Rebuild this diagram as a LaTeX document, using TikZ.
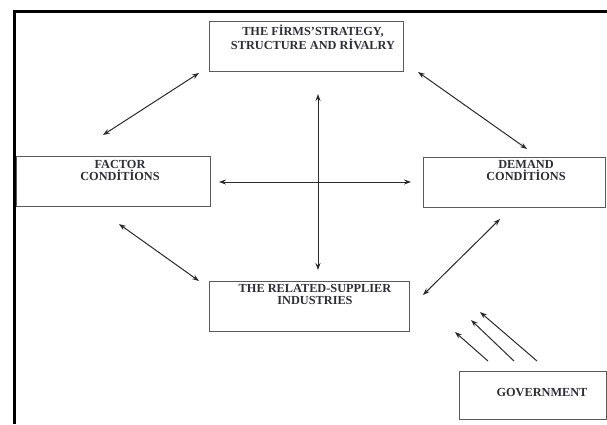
\documentclass[tikz,border=0pt]{standalone}
\usepackage{fontspec}
\setmainfont{Liberation Serif}
\usetikzlibrary{arrows.meta}
\definecolor{boxline}{HTML}{5A5A5A}
\definecolor{inkline}{HTML}{2A2A2A}
\definecolor{labelink}{HTML}{2E2E38}
\tikzset{
  box/.style={draw=boxline, line width=0.9pt, inner sep=0pt, fill=white},
  boxtext/.style={font=\bfseries\fontsize{12.3}{12}\selectfont, text=labelink, align=center, anchor=north, inner sep=0pt},
  link/.style={draw=inkline, line width=1pt, {Stealth[length=7pt,width=5pt]}-{Stealth[length=7pt,width=5pt]}},
  push/.style={draw=inkline, line width=1pt, -{Stealth[length=7pt,width=5pt]}},
  frame/.style={draw=black, line width=3pt}
}
\begin{document}
\begin{tikzpicture}[x=1pt,y=-1pt]
\useasboundingbox (0,0) rectangle (607,424);
% page frame along the top and left edges
\draw[frame] (14,424) -- (14,11.5) -- (607,11.5);

% the four determinants and government
\node[box, minimum width=194pt, minimum height=50pt] (firms) at (306,46.5) {};
\node[boxtext] (firmsT) at (313,25) {THE FİRMS'STRATEGY,\\STRUCTURE AND RİVALRY};

\node[box, minimum width=194pt, minimum height=50pt] (factor) at (113,181.5) {};
\node[boxtext] (factorT) at (120,160) {FACTOR\\CONDİTİONS};

\node[box, minimum width=182pt, minimum height=50pt] (demand) at (514,182) {};
\node[boxtext] (demandT) at (526,160) {DEMAND\\CONDİTİONS};

\node[box, minimum width=200pt, minimum height=50pt] (related) at (309,306) {};
\node[boxtext] (relatedT) at (315,284.5) {THE RELATED-SUPPLIER\\INDUSTRIES};

\node[box, minimum width=147pt, minimum height=48pt] (gov) at (533,395) {};
\node[boxtext, anchor=center] (govT) at (542,393) {GOVERNMENT};

% arrow end points
\coordinate (fa1) at (103,135);  \coordinate (fa2) at (199,73);
\coordinate (fd1) at (418,72);   \coordinate (fd2) at (527,149);
\coordinate (rf1) at (119,224);  \coordinate (rf2) at (199,281);
\coordinate (rd1) at (500,219);  \coordinate (rd2) at (423,295);
\coordinate (v1) at (318,94);    \coordinate (v2) at (318,270);
\coordinate (h1) at (219,182);   \coordinate (h2) at (411,182);
\coordinate (g1s) at (488,361);  \coordinate (g1e) at (455,332);
\coordinate (g2s) at (514,361);  \coordinate (g2e) at (471,320);
\coordinate (g3s) at (537,361);  \coordinate (g3e) at (480,312);

% mutual links
\draw[link] (fa1) -- (fa2);
\draw[link] (fd1) -- (fd2);
\draw[link] (rf1) -- (rf2);
\draw[link] (rd1) -- (rd2);
\draw[link] (v1) -- (v2);
\draw[link] (h1) -- (h2);

% influence of government
\draw[push] (g1s) -- (g1e);
\draw[push] (g2s) -- (g2e);
\draw[push] (g3s) -- (g3e);
\end{tikzpicture}
\end{document}
